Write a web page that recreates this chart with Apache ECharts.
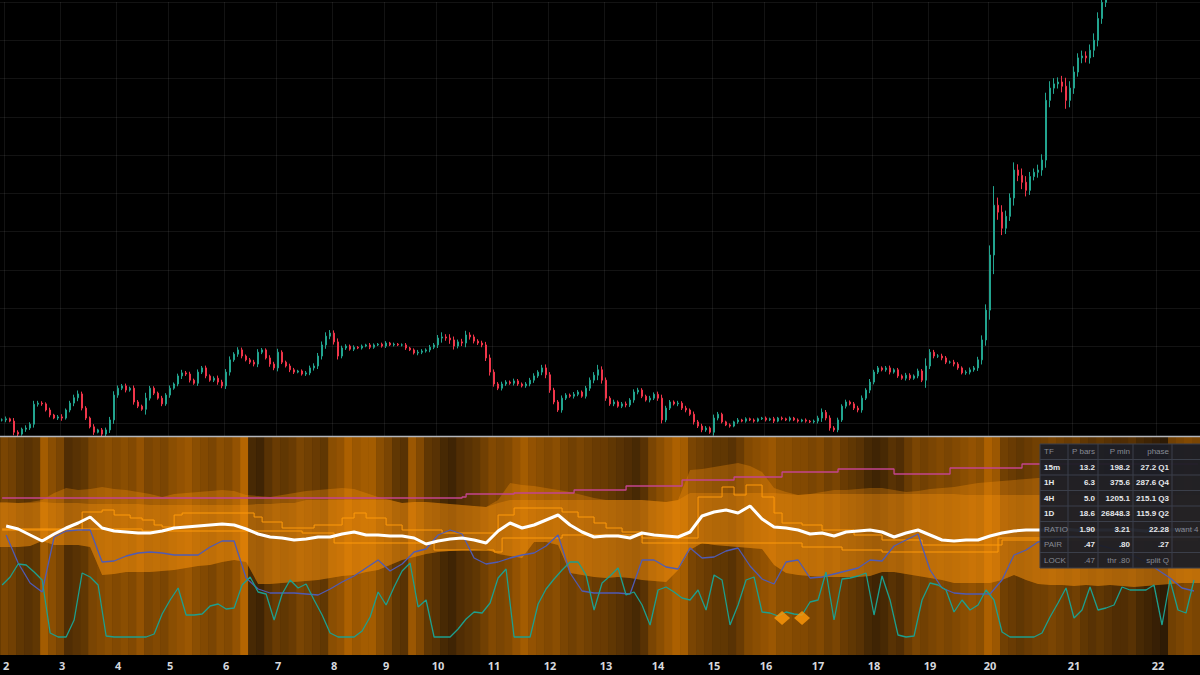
<!DOCTYPE html>
<html>
<head>
<meta charset="utf-8">
<script src="https://cdn.jsdelivr.net/npm/echarts@6/dist/echarts.min.js"></script>
<style>
html, body { margin: 0; padding: 0; background: #000; }
#chart { width: 1200px; height: 675px; }
</style>
</head>
<body>
<div id="chart"></div>
<script>
// x axis: one slot per bar, day labels sit on these bar indices
var barCount = 300;
var dayLabels = ['2','3','4','5','6','7','8','9','10','11','12','13','14','15','16','17','18','19','20','21','22'];
var dayIndex = [1,15,29,42,56,69,83,96,109,123,137,151,164,178,191,204,218,232,247,268,289];

// price pane (close per bar, open = previous close)
var closes = [
  10.8,11.1,10.5,7.6,7.1,8.4,8.7,9.7,14.9,15.2,
  15.0,13.4,12.1,11.3,11.6,11.3,13.4,15.2,16.6,17.6,
  13.9,11.3,9.0,7.6,8.2,7.1,8.2,10.8,17.3,19.1,
  19.7,18.6,19.1,15.5,14.4,13.6,16.5,19.1,17.8,16.5,
  15.0,17.3,19.1,20.2,22.3,23.1,22.8,21.2,20.4,23.3,
  24.4,22.3,21.2,21.7,20.7,19.7,23.3,26.5,28.0,29.1,
  27.5,26.5,25.9,25.4,28.5,29.1,27.0,25.4,24.4,28.5,
  25.9,24.9,23.9,23.3,23.6,22.8,23.1,24.4,24.9,27.5,
  30.4,32.7,33.5,31.2,27.5,29.6,30.1,29.3,29.8,29.6,
  30.1,30.4,29.8,30.4,30.6,30.1,30.9,30.4,30.6,30.4,
  30.4,29.6,29.1,28.3,28.5,28.8,29.1,29.8,30.4,32.2,
  32.5,32.2,31.7,30.1,31.2,30.9,33.0,32.5,31.4,30.9,
  30.4,27.0,23.3,20.2,19.1,20.2,20.7,20.4,21.0,20.2,
  19.7,20.2,21.2,22.3,23.3,24.4,22.6,18.6,15.5,13.4,
  16.5,17.3,17.0,17.5,18.1,17.0,19.1,21.2,22.5,23.9,
  21.2,16.5,15.0,15.5,14.4,15.0,14.7,16.0,18.1,18.6,
  17.0,16.0,16.5,17.5,16.5,10.8,13.9,15.5,15.0,15.2,
  13.9,13.4,12.3,10.3,9.2,8.2,8.7,7.6,11.3,12.3,
  10.3,9.5,9.2,10.3,10.8,10.5,11.1,10.8,10.5,11.1,
  11.3,10.8,11.1,10.5,11.3,11.1,10.8,11.3,10.8,10.5,
  10.8,10.5,10.3,10.5,11.3,12.8,11.3,8.7,8.2,10.8,
  14.4,15.5,15.0,13.9,13.4,16.5,18.6,20.7,23.3,24.4,
  23.9,24.4,23.3,23.9,22.3,21.7,22.5,21.7,22.3,23.6,
  21.2,24.9,28.5,27.5,27.5,27.0,25.9,25.9,25.4,24.4,
  23.1,23.3,23.9,24.4,26.5,31.7,39.5,53.9,66.9,65.1,
  60.9,64.0,68.8,76.1,74.7,72.9,70.8,74.4,75.5,76.1,
  78.7,94.3,97.5,98.6,99.1,98.0,94.3,97.5,101.7,105.4,
  105.9,105.4,107.4,110.0,115.7,119.9,125.7
];
var wicks = [
  0.4,0.6,0.3,0.8,0.5,0.4,0.7,0.5,0.9,0.6, 0.5,0.4,0.6,0.3,0.5,0.7,0.4,0.6,0.8,0.9,
  0.6,0.5,0.4,0.7,0.3,0.5,0.6,0.8,1.0,0.7, 0.5,0.6,0.4,0.7,0.5,0.4,1.4,0.6,0.5,0.4,
  0.6,0.5,0.7,0.4,0.6,0.8,0.5,0.6,0.4,0.7, 0.5,0.6,0.4,0.5,0.7,0.6,0.8,0.9,0.5,0.7,
  0.6,0.4,0.5,0.6,0.8,0.5,0.4,0.7,0.6,0.9, 0.5,0.4,0.6,0.5,0.3,0.4,0.5,0.6,0.7,0.8,
  0.9,1.0,0.8,0.7,0.9,0.6,0.5,0.4,0.5,0.3, 0.4,0.3,0.5,0.4,0.3,0.4,0.5,0.3,0.4,0.3,
  0.4,0.5,0.3,0.4,0.6,0.5,0.4,0.6,0.5,0.8, 1.2,0.7,1.0,0.9,0.6,0.8,1.1,0.7,0.6,0.5,
  0.6,0.8,0.9,0.7,0.5,0.6,0.5,0.4,0.6,0.5, 0.4,0.5,0.6,0.7,0.5,0.8,0.9,0.7,0.6,0.5,
  0.7,0.5,0.4,0.6,0.5,0.4,0.6,0.7,0.8,1.3, 0.9,0.7,0.5,0.6,0.4,0.5,0.6,0.5,0.7,0.6,
  0.5,0.4,0.6,0.5,0.7,0.9,0.6,0.5,0.4,0.6, 0.5,0.6,0.4,0.7,0.5,0.6,0.5,0.4,0.9,0.6,
  0.4,0.3,0.4,0.3,0.5,0.3,0.4,0.3,0.4,0.3, 0.3,0.4,0.3,0.5,0.3,0.4,0.3,0.4,0.3,0.4,
  0.3,0.4,0.3,0.4,0.6,1.0,0.6,0.7,0.5,0.6, 0.5,0.6,0.4,0.5,0.6,0.7,0.5,0.8,0.6,0.5,
  0.4,0.5,0.6,0.4,0.5,0.4,0.6,0.5,0.4,0.6, 0.5,2.0,0.8,0.6,0.5,0.6,0.5,0.4,0.6,0.5,
  0.4,0.5,0.6,0.5,0.8,1.2,1.5,2.5,5.0,2.0, 1.8,1.5,1.2,2.0,1.5,1.8,1.6,1.2,1.0,1.4,
  1.5,2.0,1.8,1.5,1.2,1.6,2.2,1.8,1.5,1.2, 1.4,1.2,1.5,1.8,1.6,1.4,1.2
];

// oscillator pane, background glow per 2 bars (0 = dark, 1 = bright)
var glow = [
  0.5,0.45,0.35,0.3,0.35,0.75,0.6,0.5,0.25,0.3, 0.35,0.5,0.55,0.6,0.55,0.6,0.55,0.65,0.5,0.55,
  0.5,0.6,0.65,0.7,0.6,0.55,0.5,0.6,0.55,0.65, 0.85,0.2,0.15,0.3,0.4,0.35,0.4,0.5,0.45,0.4,
  0.35,0.6,0.65,0.8,0.7,0.75,0.75,0.6,0.5,0.35, 0.3,0.7,0.55,0.35,0.3,0.2,0.15,0.25,0.3,0.35,
  0.45,0.55,0.5,0.55,0.65,0.75,0.65,0.6,0.55,0.6, 0.5,0.45,0.5,0.45,0.4,0.4,0.35,0.3,0.25,0.2,
  0.3,0.5,0.6,0.7,0.8,0.75,0.5,0.45,0.4,0.35, 0.35,0.3,0.4,0.55,0.6,0.65,0.7,0.6,0.6,0.55,
  0.55,0.5,0.55,0.45,0.5,0.4,0.35,0.3,0.2,0.15, 0.2,0.3,0.25,0.4,0.5,0.45,0.5,0.55,0.5,0.55,
  0.6,0.65,0.6,0.8,0.7,0.45,0.4,0.35,0.4,0.45, 0.45,0.5,0.45,0.4,0.45,0.35,0.3,0.35,0.3,0.25,
  0.25,0.3,0.2,0.15,0.1,0.05,0.45,0.5,0.55,0.5
];

// envelope, sampled every 3 bars
var bandTop = [
  153,152,153,155,162,167,165,166,168,166, 165,163,161,158,161,162,163,164,165,164,
  160,159,158,160,162,164,165,166,167,166, 162,158,155,152,153,153,152,151,150,149,
  148,155,172,170,169,167,165,163,160,157, 155,155,155,155,154,153,155,185,186,188,
  190,192,189,183,167,163,160,161,163,165, 165,166,167,167,165,163,164,166,167,168,
  170,172,173,174,175,176,177,177,178,178, 179,179,179,180,180,180,180,181,181,181
];
var bandInner = [
  152,152,152,153,152,152,152,151,151,151, 151,151,150,150,150,150,150,150,150,150,
  150,151,151,152,152,155,155,155,155,155, 155,155,155,152,153,153,152,151,150,149,
  148,152,155,155,155,155,155,155,155,155, 155,155,155,155,154,153,155,162,162,162,
  162,162,162,162,162,161,160,161,161,161, 161,161,161,161,161,161,161,161,161,161,
  160,160,160,160,160,160,160,160,160,160, 160,160,160,160,160,160,160,160,160,160
];
var bandLow = [
  108,108,109,114,110,110,110,108,80,81, 83,83,83,84,85,87,89,90,93,95,
  93,71,71,72,73,74,75,77,79,80, 83,85,90,95,98,101,103,104,105,105,
  106,101,99,97,113,113,110,82,80,78, 77,78,77,75,74,73,85,105,112,110,
  109,108,107,106,90,82,80,79,78,78, 78,78,79,83,83,81,79,77,75,72,
  72,72,72,75,80,75,71,70,70,69, 70,69,70,69,68,69,70,71,72,72
];
var fastLine = [
  129,126,120,114,121,127,132,138,127,124, 123,122,122,124,127,128,129,130,131,130,
  126,121,118,117,115,116,118,118,121,123, 120,120,119,119,117,111,114,116,117,115,
  112,124,132,127,130,135,140,130,123,118, 119,119,117,122,120,119,118,123,139,143,
  145,142,149,136,128,127,125,121,122,119, 123,124,125,123,118,122,125,120,115,114,
  115,115,119,122,124,125,125,125,126,125, 124,125,125,126,125,124,125,125,126,125
];
var slowLine = [
  120,92,72,63,118,124,125,125,93,94, 99,102,103,102,100,100,100,108,114,114,
  77,66,62,62,62,61,60,66,73,79, 87,95,84,91,103,106,120,125,121,97,
  91,93,97,100,102,109,120,82,64,62, 62,62,61,95,95,88,86,107,97,98,
  104,107,89,76,71,93,95,77,78,81, 84,87,95,94,109,115,121,85,67,62,
  61,61,61,75,100,105,113,115,117,119, 115,110,107,103,99,93,85,77,67,64
];
// sampled every 2 bars
var tealLine = [
  70,78,91,90,83,75,22,18,18,35, 82,78,70,19,18,18,18,18,18,21,
  41,55,67,40,40,41,49,51,46,47, 70,78,63,61,35,61,75,67,71,55,
  40,22,18,18,18,24,38,63,50,68, 84,92,48,55,18,18,18,26,36,43,
  42,52,77,86,18,18,18,51,66,76, 85,93,93,80,45,72,79,87,60,63,
  50,30,65,68,63,57,55,65,45,80, 75,30,50,75,78,43,42,39,43,41,
  40,53,55,83,35,76,77,79,82,40, 79,55,20,18,19,55,72,70,65,43,
  55,45,50,65,55,23,18,18,18,18, 22,38,52,67,37,45,68,45,47,50,
  68,65,65,65,70,30,75,45,42,75
];
// step lines: [bar index, level]
var purpleSteps = [[0,157],[115,158],[116,161],[128,162],[143,165],[156,169],[170,175],[183,178],[195,183],[209,186],[223,181],[237,187],[255,191],[299,191]];
var orangeHiSteps = [[0,125],[20,143],[25,145],[28,140],[32,137],[35,135],[38,130],[40,128],[43,140],[45,142],[63,138],[65,133],[70,127],[78,130],[85,137],[88,142],[91,137],[96,130],[100,125],[110,122],[124,140],[128,147],[140,143],[144,138],[148,132],[151,127],[155,123],[160,117],[174,158],[180,168],[183,160],[186,170],[190,158],[193,142],[195,132],[200,130],[205,125],[213,120],[220,115],[230,110],[250,115],[299,115]];
var orangeLoSteps = [[0,126],[35,124],[75,122],[83,112],[108,105],[123,103],[125,117],[140,120],[160,112],[200,108],[210,105],[220,103],[249,117],[299,117]];
var signals = [[195,37],[200,37]];

// table
var tableHead = ['TF','P bars','P min','phase',''];
var tableRows = [
  ['15m','13.2','198.2','27.2 Q1',''],
  ['1H','6.3','375.6','287.6 Q4',''],
  ['4H','5.0','1205.1','215.1 Q3',''],
  ['1D','18.6','26848.3','115.9 Q2',''],
  ['RATIO','1.90','3.21','22.28','want 4'],
  ['PAIR','.47','.80','.27',''],
  ['LOCK','.47','thr .80','split Q','']
];

var cats = [];
for (var i = 0; i < barCount; i++) cats.push('');
dayIndex.forEach(function (b, k) { cats[b] = dayLabels[k]; });

var candles = closes.map(function (c, i) {
  var o = i ? closes[i - 1] : c;
  return [o, c, Math.min(o, c) - wicks[i], Math.max(o, c) + wicks[i]];
});

function pairs(arr, step, off) {
  return arr.map(function (v, j) { return [off + j * step, v]; });
}

function glowColor(g) {
  var d = [38, 22, 5], b = [205, 115, 0];
  return 'rgb(' + d.map(function (c, n) { return Math.round(c + (b[n] - c) * g); }).join(',') + ')';
}

function bandSeries(upper, lower, color) {
  return {
    type: 'custom', xAxisIndex: 1, yAxisIndex: 1, z: 3, silent: true, clip: true,
    data: [[0, 0]],
    renderItem: function (params, api) {
      var bw = api.size([1, 0])[0];
      var pts = [];
      upper.forEach(function (v, j) { pts.push(api.coord([3 * j + 1, v])); });
      var last = pts[pts.length - 1];
      pts.push([last[0] + bw * 2, last[1]]);
      var low = [];
      lower.forEach(function (v, j) { low.push(api.coord([3 * j + 1, v])); });
      low.push([low[low.length - 1][0] + bw * 2, low[low.length - 1][1]]);
      low.unshift([low[0][0] - bw * 2, low[0][1]]);
      pts.unshift([pts[0][0] - bw * 2, pts[0][1]]);
      return { type: 'polygon', shape: { points: pts.concat(low.reverse()) }, style: { fill: color } };
    }
  };
}

function lineSeries(data, color, width, z, step) {
  return {
    type: 'line', xAxisIndex: 1, yAxisIndex: 1, data: data, z: z, step: step || false,
    showSymbol: false, silent: true,
    lineStyle: { color: color, width: width }
  };
}

// table graphics
var graphics = [];
var colEdge = [1040, 1068, 1098, 1133, 1172, 1215];
var rowTop = 444, rowH = 15.5;
var nRows = tableRows.length + 1;
var tableFont = '8px "Liberation Sans", Arial, sans-serif';
graphics.push({ type: 'rect', z: 100, shape: { x: 1040, y: rowTop, width: 175, height: rowH * nRows },
  style: { fill: 'rgba(27,30,38,0.95)', stroke: '#3b3f4a', lineWidth: 1 } });
for (var r = 1; r < nRows; r++) {
  graphics.push({ type: 'line', z: 101, shape: { x1: 1040, y1: rowTop + r * rowH, x2: 1215, y2: rowTop + r * rowH },
    style: { stroke: '#3b3f4a', lineWidth: 1 } });
}
for (var c = 1; c < colEdge.length - 1; c++) {
  graphics.push({ type: 'line', z: 101, shape: { x1: colEdge[c], y1: rowTop, x2: colEdge[c], y2: rowTop + rowH * nRows },
    style: { stroke: '#3b3f4a', lineWidth: 1 } });
}
[tableHead].concat(tableRows).forEach(function (row, r) {
  row.forEach(function (txt, c) {
    if (!txt) return;
    var head = r === 0, gray = head || r >= 5 && c === 0 || r === 7 || c === 4;
    var left = c === 0 || c === 4;
    graphics.push({
      type: 'text', z: 102,
      x: left ? colEdge[c] + (c === 4 ? 3 : 4) : colEdge[c + 1] - 3,
      y: rowTop + rowH * (r + 0.5),
      style: {
        text: txt, fill: gray ? '#878b95' : '#e6e8ec',
        font: (gray ? 'normal ' : 'bold ') + tableFont,
        align: left ? 'left' : 'right', verticalAlign: 'middle'
      }
    });
  });
});
graphics.push({ type: 'line', z: 90, shape: { x1: 0, y1: 436.5, x2: 1200, y2: 436.5 },
  style: { stroke: '#b3b6bd', lineWidth: 1.5 } });

var chart = echarts.init(document.getElementById('chart'), null, { renderer: 'svg' });
chart.setOption({
  backgroundColor: '#000',
  animation: false,
  graphic: graphics,
  grid: [
    { left: 0, right: 0, top: 2, bottom: 213.7 },
    { left: 0, right: 0, top: 437, bottom: 20 }
  ],
  xAxis: [
    { type: 'category', gridIndex: 0, data: cats, boundaryGap: true,
      axisLine: { show: false }, axisTick: { show: false }, axisLabel: { show: false },
      splitLine: { show: true, interval: function (i, v) { return v !== ''; },
        lineStyle: { color: 'rgba(255,255,255,0.075)', width: 1 } } },
    { type: 'category', gridIndex: 1, data: cats, boundaryGap: true,
      axisLine: { show: false }, axisTick: { show: false }, splitLine: { show: false },
      axisLabel: { interval: function (i, v) { return v !== ''; }, color: '#d6d8de', fontSize: 11,
        fontWeight: 'bold', margin: 5, fontFamily: '"Noto Sans", Roboto, sans-serif' } }
  ],
  yAxis: [
    { type: 'value', gridIndex: 0, min: 0, max: 120, interval: 10, position: 'right',
      axisLine: { show: false }, axisTick: { show: false }, axisLabel: { show: false },
      splitLine: { lineStyle: { color: 'rgba(255,255,255,0.075)', width: 1 } } },
    { type: 'value', gridIndex: 1, min: 0, max: 218, show: false, splitLine: { show: false } }
  ],
  series: [
    {
      type: 'candlestick', xAxisIndex: 0, yAxisIndex: 0, data: candles, z: 1, barWidth: '62%', silent: true,
      itemStyle: { color: '#22a48f', color0: '#f0364a', borderColor: '#22a48f', borderColor0: '#f0364a', borderWidth: 1 }
    },
    {
      type: 'custom', xAxisIndex: 1, yAxisIndex: 1, z: 2, silent: true, clip: true,
      data: glow.map(function (g, k) { return [2 * k, g]; }),
      encode: { x: 0, y: 1 },
      renderItem: function (params, api) {
        var k = api.value(0), bw = api.size([1, 0])[0];
        var top = api.coord([k, 218]), bot = api.coord([k, 0]);
        return { type: 'rect', shape: { x: top[0] - bw / 2, y: top[1], width: bw * 2 + 0.6, height: bot[1] - top[1] },
          style: { fill: glowColor(api.value(1)) } };
      }
    },
    bandSeries(bandTop, bandLow, 'rgba(255,148,12,0.30)'),
    bandSeries(bandInner, bandLow, 'rgba(255,148,12,0.30)'),
    lineSeries(purpleSteps, '#c4448f', 1.3, 5, 'end'),
    lineSeries(orangeHiSteps, '#ff9a0a', 1, 5, 'end'),
    lineSeries(orangeLoSteps, '#ff9a0a', 1, 5, 'end'),
    lineSeries(pairs(slowLine, 3, 1), '#4f5bb5', 1.3, 6),
    lineSeries(pairs(tealLine, 2, 0), '#1d9f8e', 1.3, 6),
    lineSeries(pairs(fastLine, 3, 1), '#ffffff', 3, 7),
    {
      type: 'scatter', xAxisIndex: 1, yAxisIndex: 1, z: 8, data: signals, silent: true,
      symbol: 'diamond', symbolSize: [16, 14], itemStyle: { color: '#ff9a0a' }
    }
  ]
});
</script>
</body>
</html>
